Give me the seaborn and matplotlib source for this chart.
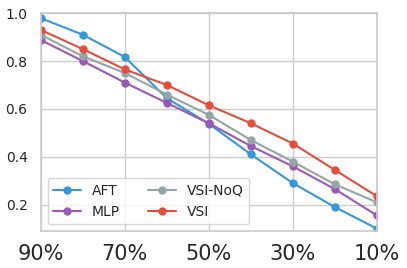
import matplotlib
matplotlib.use("Agg")
import matplotlib.pyplot as plt
import seaborn as sns
import pandas as pd

ratios = [90, 80, 70, 60, 50, 40, 30, 20, 10]
aft = [0.979, 0.91, 0.817, 0.645, 0.538, 0.41, 0.29, 0.19, 0.10]
mlp = [0.888, 0.80, 0.71, 0.625, 0.54, 0.445, 0.36, 0.265, 0.155]
vsi_noq = [0.91, 0.82, 0.75, 0.66, 0.575, 0.47, 0.38, 0.285, 0.21]
vsi = [0.93, 0.85, 0.765, 0.70, 0.615, 0.54, 0.455, 0.345, 0.235]

methods = ["AFT", "MLP", "VSI-NoQ", "VSI"]
colors = ["#3498db", "#9b59b6", "#95a5a6", "#e74c3c"]

df = pd.DataFrame({
    "ratio": ratios * 4,
    "score": aft + mlp + vsi_noq + vsi,
    "method": [m for m in methods for _ in ratios],
})

sns.set_theme(style="whitegrid")
plt.rcParams['font.family'] = ['DejaVu Sans']

fig, ax = plt.subplots(figsize=(4.07, 2.68), dpi=100)
sns.lineplot(data=df, x="ratio", y="score", hue="method", hue_order=methods,
             palette=colors, marker="o", markersize=6, markeredgewidth=0,
             linewidth=1.5, ax=ax)

ax.set_xlim(90, 10)
ax.set_ylim(0.09, 1.0)
ax.set_xticks([90, 70, 50, 30, 10])
ax.set_xticklabels(["90%", "70%", "50%", "30%", "10%"], fontsize=15)
ax.set_yticks([0.2, 0.4, 0.6, 0.8, 1.0])
ax.tick_params(axis="y", labelsize=10)
ax.set_xlabel("")
ax.set_ylabel("")
for s in ax.spines.values():
    s.set_color("#cccccc")

ax.legend(loc="lower left", ncol=2, fontsize=10, frameon=True)

fig.subplots_adjust(left=0.1, right=0.926, top=0.951, bottom=0.138)
fig.savefig("out.png", dpi=100)
